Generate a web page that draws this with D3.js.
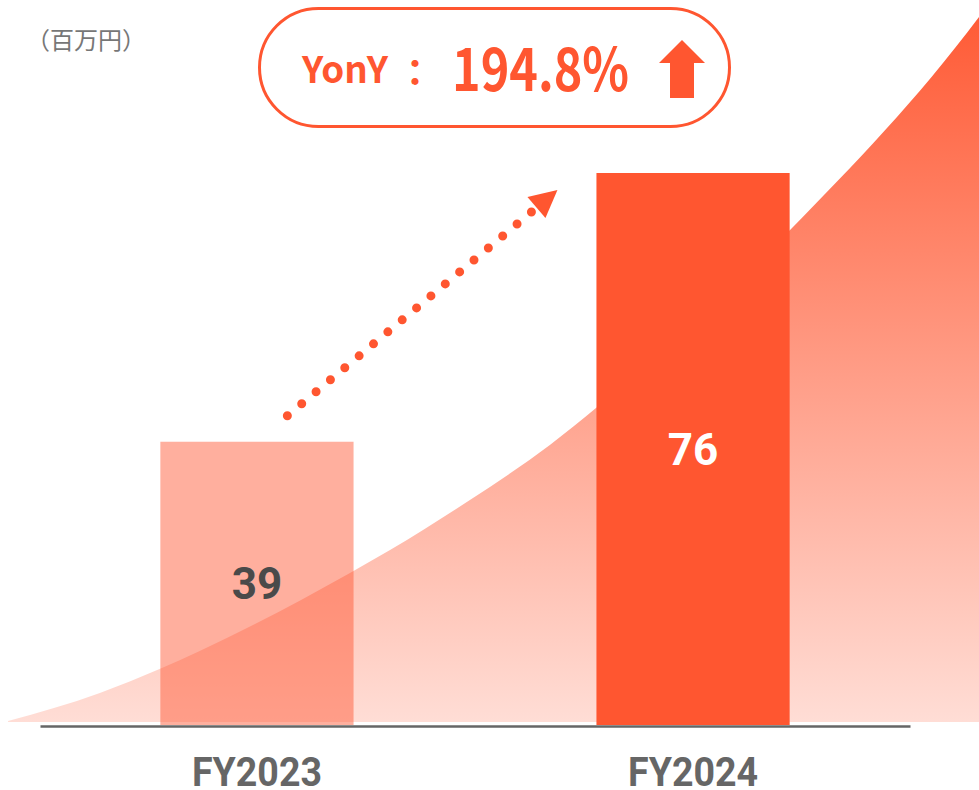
<!DOCTYPE html>
<html>
<head>
<meta charset="utf-8">
<script src="https://cdn.jsdelivr.net/npm/d3@7"></script>
<style>
  html, body { margin: 0; padding: 0; background: #ffffff; }
  svg { display: block; }
</style>
</head>
<body>
<div id="chart"></div>
<script>
// ---- data ----
const categories = ["FY2023", "FY2024"];
const values = [39, 76];
const unitLabel = "（百万円）";
const yoyLabel = "YonY";
const yoyValue = "194.8%";
// decorative growth curve: [x as % of width, value in 百万円 units]
const trendX = [0.82, 10.2, 16.3, 20.4, 35.75, 39.84, 48.0, 56.2, 61.0, 80.7, 100, 103];
const trendV = [0.55, 4.41, 7.71, 10.19, 20.93, 24.09, 30.98, 38.6, 43.78, 68.15, 97.48, 103];

// ---- layout ----
const W = 979, H = 790;
const baseY = 725, topY = 173;
const accent = "#FF5630";

const svg = d3.select("#chart").append("svg")
  .attr("width", W).attr("height", H);

const x = d3.scaleBand().domain(categories)
  .range([40, 910]).paddingInner(0.557).paddingOuter(0.276);
const y = d3.scaleLinear().domain([0, 76]).range([baseY, topY]);
const xt = d3.scaleLinear().domain([0, 100]).range([0, W]);

// gradient for area
const defs = svg.append("defs");
const grad = defs.append("linearGradient").attr("id", "trendGrad")
  .attr("gradientUnits", "userSpaceOnUse")
  .attr("x1", 0).attr("x2", 0).attr("y1", 17).attr("y2", baseY - 3);
grad.append("stop").attr("offset", 0).attr("stop-color", accent).attr("stop-opacity", 0.97);
grad.append("stop").attr("offset", 1).attr("stop-color", accent).attr("stop-opacity", 0.2);

const trend = trendX.map((d, i) => ({ x: d, v: trendV[i] }));
const area = d3.area()
  .x(d => xt(d.x))
  .y0(baseY - 3)
  .y1(d => y(d.v))
  .curve(d3.curveMonotoneX);
svg.append("path").datum(trend)
  .attr("d", area).attr("fill", "url(#trendGrad)");

// bars
const barColors = [accent, accent];
const barOpac = [0.47, 1];
svg.append("g").selectAll("rect").data(values).join("rect")
  .attr("x", (d, i) => x(categories[i]))
  .attr("y", d => y(d))
  .attr("width", x.bandwidth())
  .attr("height", d => y(0) - y(d))
  .attr("fill", (d, i) => barColors[i])
  .attr("fill-opacity", (d, i) => barOpac[i]);

// value labels
const labelColors = ["#4a4a4a", "#ffffff"];
svg.append("g").selectAll("text").data(values).join("text")
  .attr("x", (d, i) => x(categories[i]) + x.bandwidth() / 2)
  .attr("y", d => (y(d) + y(0)) / 2 + 16)
  .attr("text-anchor", "middle")
  .attr("font-family", "Roboto, 'Liberation Sans', sans-serif")
  .attr("font-weight", 700)
  .attr("font-size", 44)
  .attr("fill", (d, i) => labelColors[i])
  .text(d => d);

// x axis
const axis = svg.append("g").attr("transform", `translate(0,${baseY + 1})`)
  .call(d3.axisBottom(x).tickSize(0).tickPadding(0));
axis.select(".domain").attr("stroke", "#666").attr("stroke-width", 2.5);
axis.selectAll(".tick text")
  .attr("y", 60).attr("dy", 0)
  .attr("font-family", "Roboto, 'Liberation Sans', sans-serif")
  .attr("font-weight", 700)
  .attr("font-size", 40)
  .attr("fill", "#666")
  .attr("textLength", 130)
  .attr("lengthAdjust", "spacingAndGlyphs");

// unit label
svg.append("text")
  .attr("x", 86).attr("y", 38)
  .attr("dominant-baseline", "central")
  .attr("text-anchor", "middle")
  .attr("font-family", "'Noto Sans CJK JP', 'Noto Sans', sans-serif")
  .attr("font-size", 24)
  .attr("fill", "#777")
  .text(unitLabel);

// YoY badge
const badge = svg.append("g");
badge.append("rect")
  .attr("x", 259.5).attr("y", 8.5).attr("width", 470).attr("height", 118)
  .attr("rx", 59).attr("ry", 59)
  .attr("fill", "#fff").attr("stroke", accent).attr("stroke-width", 3);
badge.append("text")
  .attr("x", 302).attr("y", 83)
  .attr("font-family", "'Noto Sans CJK JP', 'Noto Sans', sans-serif")
  .attr("font-weight", 700).attr("font-size", 37)
  .attr("fill", accent)
  .attr("textLength", 86).attr("lengthAdjust", "spacingAndGlyphs")
  .text(yoyLabel);
badge.append("text")
  .attr("x", 415).attr("y", 71)
  .attr("text-anchor", "middle").attr("dominant-baseline", "central")
  .attr("font-family", "'Noto Sans CJK JP', 'Noto Sans', sans-serif")
  .attr("font-weight", 700).attr("font-size", 37)
  .attr("fill", accent)
  .text("：");
badge.append("text")
  .attr("x", 452).attr("y", 91)
  .attr("font-family", "'Noto Sans CJK JP', 'Noto Sans', sans-serif")
  .attr("font-weight", 700).attr("font-size", 59)
  .attr("fill", accent)
  .attr("textLength", 177).attr("lengthAdjust", "spacingAndGlyphs")
  .text(yoyValue);
// up arrow
const ax = 682, aTop = 40, aw = 23, headH = 23, shaftW = 12, aBot = 98;
badge.append("path")
  .attr("d", d3.line()([
    [ax, aTop], [ax + aw, aTop + headH], [ax + shaftW, aTop + headH],
    [ax + shaftW, aBot], [ax - shaftW, aBot], [ax - shaftW, aTop + headH],
    [ax - aw, aTop + headH]
  ]) + "Z")
  .attr("fill", accent);

// dotted growth arrow between bars
const b1 = x(categories[0]), b2 = x(categories[1]);
const p0 = [b1 + 127, y(values[0]) - 26];
const p1 = [b2 - 65, y(values[1]) + 39];
svg.append("line")
  .attr("x1", p0[0]).attr("y1", p0[1]).attr("x2", p1[0]).attr("y2", p1[1])
  .attr("stroke", accent).attr("stroke-width", 9)
  .attr("stroke-linecap", "round")
  .attr("stroke-dasharray", "0 18.7");
const tip = [b2 - 39, y(values[1]) + 17];
svg.append("path")
  .attr("d", d3.line()([[b2 - 69, y(values[1]) + 24], tip, [b2 - 51, y(values[1]) + 45]]) + "Z")
  .attr("fill", accent);
</script>
</body>
</html>
